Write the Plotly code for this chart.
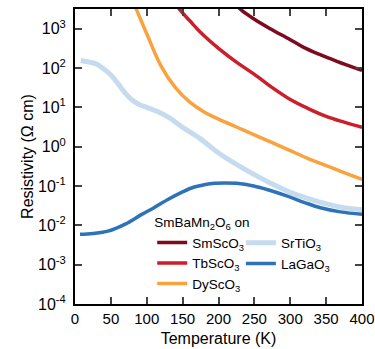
import plotly.graph_objects as go

# Temperature (K) and resistivity (Ohm cm)
T_SmScO3 = [225, 232, 250, 272, 300, 318, 340, 365, 400]
R_SmScO3 = [3980, 2950, 1740, 1000, 525, 339, 224, 148, 87]

T_TbScO3 = [140, 149, 160, 177, 200, 225, 250, 275, 300, 325, 350, 375, 400]
R_TbScO3 = [4200, 2630, 1585, 741, 316, 141, 69, 31.6, 15.8, 9.3, 5.9, 4.2, 3.1]

T_DyScO3 = [80, 86, 100, 120, 140, 160, 180, 200, 225, 250, 275, 300, 325, 350, 375, 400]
R_DyScO3 = [5500, 2950, 741, 112, 31.6, 13.5, 7.6, 5.0, 3.16, 2.0, 1.26, 0.79, 0.50, 0.33, 0.22, 0.148]

T_SrTiO3 = [8, 20, 30, 40, 50, 60, 70, 80, 90, 100, 115, 130, 150, 175, 200,
            225, 250, 275, 300, 325, 350, 375, 400]
R_SrTiO3 = [155, 141, 126, 95, 66, 40, 23, 15.1, 11.7, 10.0, 7.8, 5.6, 3.1, 1.58, 0.69,
            0.355, 0.195, 0.112, 0.069, 0.048, 0.035, 0.028, 0.025]

T_LaGaO3 = [7, 25, 46, 70, 93, 110, 130, 150, 165, 180, 195, 210, 225, 249, 270,
            295, 320, 342, 370, 400]
R_LaGaO3 = [0.0059, 0.0062, 0.0071, 0.0107, 0.019, 0.028, 0.046, 0.071, 0.093, 0.107,
            0.117, 0.120, 0.117, 0.100, 0.079, 0.056, 0.038, 0.028, 0.022, 0.019]

y_tickvals = [1e-4, 1e-3, 1e-2, 1e-1, 1e0, 1e1, 1e2, 1e3]
y_ticktext = ["10<sup>-4</sup>", "10<sup>-3</sup>", "10<sup>-2</sup>", "10<sup>-1</sup>",
              "10<sup>0</sup>", "10<sup>1</sup>", "10<sup>2</sup>", "10<sup>3</sup>"]
x_tickvals = [0, 50, 100, 150, 200, 250, 300, 350, 400]

FONT = "Liberation Sans, Arial, sans-serif"

fig = go.Figure()
series = [
    ("SmScO<sub>3</sub>", T_SmScO3, R_SmScO3, "#7d0b1d", 3.5, "legend"),
    ("TbScO<sub>3</sub>", T_TbScO3, R_TbScO3, "#cc1e2b", 3.5, "legend"),
    ("DyScO<sub>3</sub>", T_DyScO3, R_DyScO3, "#f9a23e", 3.5, "legend"),
    ("SrTiO<sub>3</sub>", T_SrTiO3, R_SrTiO3, "#c6dbee", 5, "legend2"),
    ("LaGaO<sub>3</sub>", T_LaGaO3, R_LaGaO3, "#2e72b8", 3.5, "legend2"),
]
for name, t, r, c, w, lg in series:
    fig.add_trace(go.Scatter(x=t, y=r, mode="lines", name=name, legendgroup=name,
                             line=dict(color=c, width=w, shape="spline", smoothing=1.0),
                             legend=lg))

fig.update_layout(
    width=375, height=349,
    margin=dict(l=75, r=13, t=9, b=45, autoexpand=False),
    paper_bgcolor="white", plot_bgcolor="white",
    font=dict(family=FONT, size=15, color="black"),
    legend=dict(x=0.269, y=0.32, xanchor="left", yanchor="top",
                bgcolor="rgba(0,0,0,0)", font=dict(size=13.5),
                title=dict(text="SmBaMn<sub>2</sub>O<sub>6</sub> on", side="top", font=dict(size=13.5)),
                tracegroupgap=0, itemwidth=30),
    legend2=dict(x=0.578, y=0.259, xanchor="left", yanchor="top",
                 bgcolor="rgba(0,0,0,0)", font=dict(size=13.5),
                 tracegroupgap=0, itemwidth=30),
)
fig.update_xaxes(range=[0, 400], tickvals=x_tickvals, ticks="inside", ticklen=7, tickwidth=2,
                 showline=True, linewidth=2, linecolor="black", mirror="ticks",
                 showgrid=False, zeroline=False, automargin=False,
                 title=dict(text="Temperature (K)", font=dict(size=16), standoff=7),
                 tickfont=dict(size=15))
fig.update_yaxes(type="log", range=[-4, 3.5], tickvals=y_tickvals, ticktext=y_ticktext,
                 ticks="inside", ticklen=7, tickwidth=2, ticklabelstandoff=4,
                 showline=True, linewidth=2, linecolor="black", mirror="ticks",
                 showgrid=False, zeroline=False, automargin=False,
                 title=dict(text="Resistivity (Ω cm)", font=dict(size=16), standoff=0),
                 tickfont=dict(size=16))

fig.write_html("out.html", config={"displayModeBar": False},
               post_script="document.body.style.margin='0';document.body.style.overflow='hidden';")
